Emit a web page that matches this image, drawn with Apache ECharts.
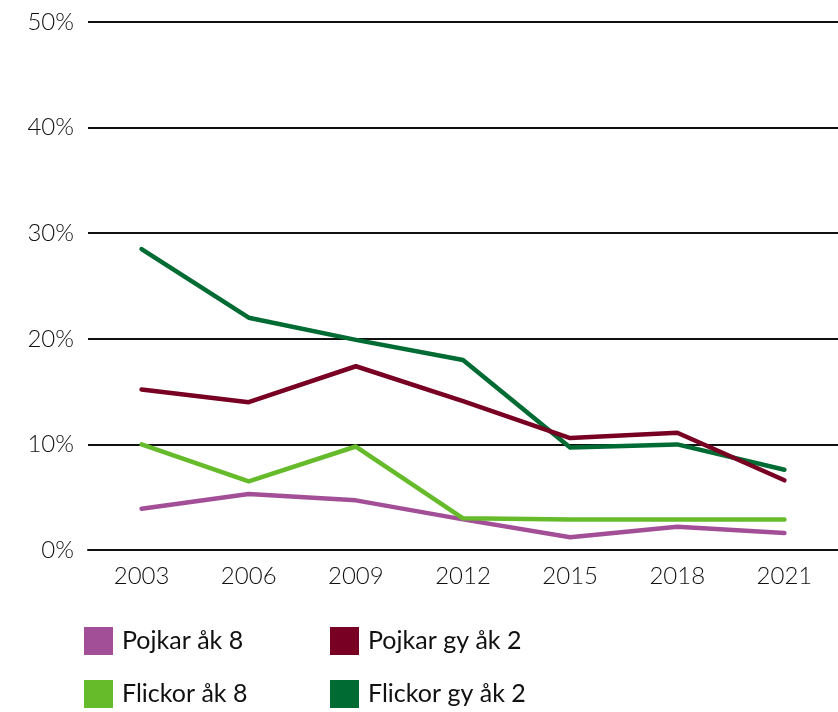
<!DOCTYPE html>
<html>
<head>
<meta charset="utf-8">
<script src="https://cdn.jsdelivr.net/npm/echarts@6/dist/echarts.min.js"></script>
<style>
  html, body { margin: 0; padding: 0; background: #fff; }
  #chart { width: 838px; height: 712px; }
</style>
</head>
<body>
<div id="chart"></div>
<script>
// kategorier (år)
const years = ['2003', '2006', '2009', '2012', '2015', '2018', '2021']
// andel i procent
const pojkarAk8 = [3.9, 5.3, 4.7, 2.9, 1.2, 2.2, 1.6]
const flickorAk8 = [10.0, 6.5, 9.8, 3.0, 2.9, 2.9, 2.9]
const pojkarGy2 = [15.2, 14.0, 17.4, 14.1, 10.6, 11.1, 6.6]
const flickorGy2 = [28.5, 22.0, 19.9, 18.0, 9.7, 10.0, 7.6]
const yTicks = [0, 10, 20, 30, 40, 50]

const font = 'Lato, "DejaVu Sans", sans-serif'

function legendBox(name, left, top) {
  return {
    data: [name],
    left: left,
    top: top,
    icon: 'rect',
    itemWidth: 29,
    itemHeight: 28,
    itemGap: 0,
    padding: 0,
    selectedMode: false,
    textStyle: { fontFamily: font, fontSize: 25, color: '#111', padding: [0, 0, 0, 4] }
  }
}

function line(name, color, data) {
  return {
    name: name,
    type: 'line',
    data: data,
    symbol: 'none',
    color: color,
    lineStyle: { width: 4.5, color: color, cap: 'round', join: 'round' }
  }
}

const chart = echarts.init(document.getElementById('chart'))
chart.setOption({
  animation: false,
  grid: { left: 88, right: 0, top: 22, bottom: 162 },
  legend: [
    legendBox('Pojkar åk 8', 84, 627),
    legendBox('Pojkar gy åk 2', 330, 627),
    legendBox('Flickor åk 8', 84, 680),
    legendBox('Flickor gy åk 2', 330, 680)
  ],
  xAxis: {
    type: 'category',
    data: years,
    axisLine: { lineStyle: { color: '#111', width: 2 } },
    axisTick: { show: false },
    axisLabel: { fontFamily: font, fontWeight: 300, fontSize: 24, color: '#111', margin: 14 }
  },
  yAxis: {
    type: 'value',
    min: yTicks[0],
    max: yTicks[yTicks.length - 1],
    interval: 10,
    axisLine: { show: false },
    axisTick: { show: false },
    splitLine: { lineStyle: { color: '#111', width: 2 } },
    axisLabel: { fontFamily: font, fontWeight: 300, fontSize: 24, color: '#111', margin: 14, formatter: '{value}%' }
  },
  series: [
    line('Pojkar åk 8', '#a24f98', pojkarAk8),
    line('Flickor åk 8', '#66bb2b', flickorAk8),
    line('Flickor gy åk 2', '#006b33', flickorGy2),
    line('Pojkar gy åk 2', '#780022', pojkarGy2)
  ]
})
</script>
</body>
</html>
